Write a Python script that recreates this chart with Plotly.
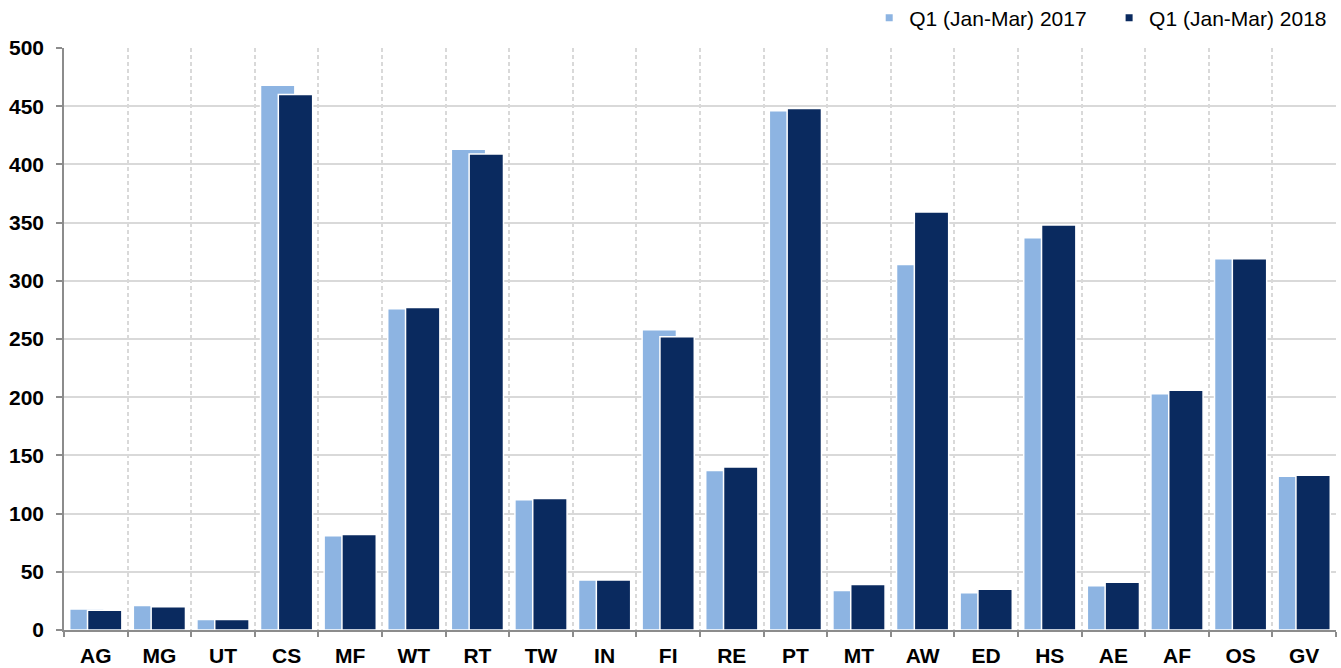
import plotly.graph_objects as go

categories = ["AG", "MG", "UT", "CS", "MF", "WT", "RT", "TW", "IN", "FI",
              "RE", "PT", "MT", "AW", "ED", "HS", "AE", "AF", "OS", "GV"]
q1_2017 = [18, 21, 9, 468, 81, 276, 413, 112, 43, 258,
           137, 446, 34, 314, 32, 337, 38, 203, 319, 132]
q1_2018 = [17, 20, 9, 460, 82, 277, 409, 113, 43, 252,
           140, 448, 39, 359, 35, 348, 41, 206, 319, 133]
series_names = ["Q1 (Jan-Mar) 2017", "Q1 (Jan-Mar) 2018"]
series_colors = ["#8DB4E2", "#0A2A5F"]
y_ticks = [0, 50, 100, 150, 200, 250, 300, 350, 400, 450, 500]

FONT = "Liberation Sans, Arial, sans-serif"

fig = go.Figure()
fig.add_trace(go.Bar(
    x=categories, y=q1_2017, name=series_names[0], showlegend=False,
    marker=dict(color=series_colors[0], line=dict(color="white", width=1.5)),
    offset=-0.41, width=0.54,
))
fig.add_trace(go.Bar(
    x=categories, y=q1_2018, name=series_names[1], showlegend=False,
    marker=dict(color=series_colors[1], line=dict(color="white", width=1.5)),
    offset=-0.13, width=0.54,
))
# legend entries with small square symbols
pads = ["\u00a0" * 3, ""]
for name, col, pad in zip(series_names, series_colors, pads):
    fig.add_trace(go.Scatter(
        x=[None], y=[None], mode="markers", name=name + pad,
        marker=dict(symbol="square", size=7, color=col),
    ))

fig.update_layout(
    width=1341, height=668,
    margin=dict(l=64, r=5, t=48, b=38, autoexpand=False),
    paper_bgcolor="white", plot_bgcolor="white",
    barmode="overlay",
    font=dict(family=FONT, color="black"),
    showlegend=True,
    legend=dict(orientation="h", x=1337 / 1341, xanchor="right",
                yref="container", y=1 - 18 / 668, yanchor="middle",
                font=dict(size=21, family=FONT, color="black"),
                itemwidth=30, traceorder="normal", bgcolor="rgba(0,0,0,0)",
                tracegroupgap=0),
)
fig.update_xaxes(
    type="category", tickson="boundaries", automargin=False,
    showgrid=True, gridcolor="#d9d9d9", griddash="4px,3px", gridwidth=1.5,
    showline=True, linecolor="#8c8c8c", linewidth=1.5,
    ticks="outside", ticklen=5, tickcolor="#8c8c8c", tickwidth=1.5,
    ticklabelstandoff=6,
    tickfont=dict(size=21, family=FONT, color="black", weight="bold"),
    range=[-0.5, 19.5],
)
fig.update_yaxes(
    range=[0, 500], tickvals=y_ticks, automargin=False,
    showgrid=True, gridcolor="#d9d9d9", gridwidth=1.5,
    showline=True, linecolor="#8c8c8c", linewidth=1.5,
    ticks="outside", ticklen=6, tickcolor="#8c8c8c", tickwidth=1.5,
    ticklabelstandoff=8,
    tickfont=dict(size=21, family=FONT, color="black", weight="bold"),
    zeroline=False,
)

fig.write_html(
    "out.html",
    config={"displayModeBar": False},
    post_script="document.body.style.margin='0';document.body.style.padding='0';",
)
